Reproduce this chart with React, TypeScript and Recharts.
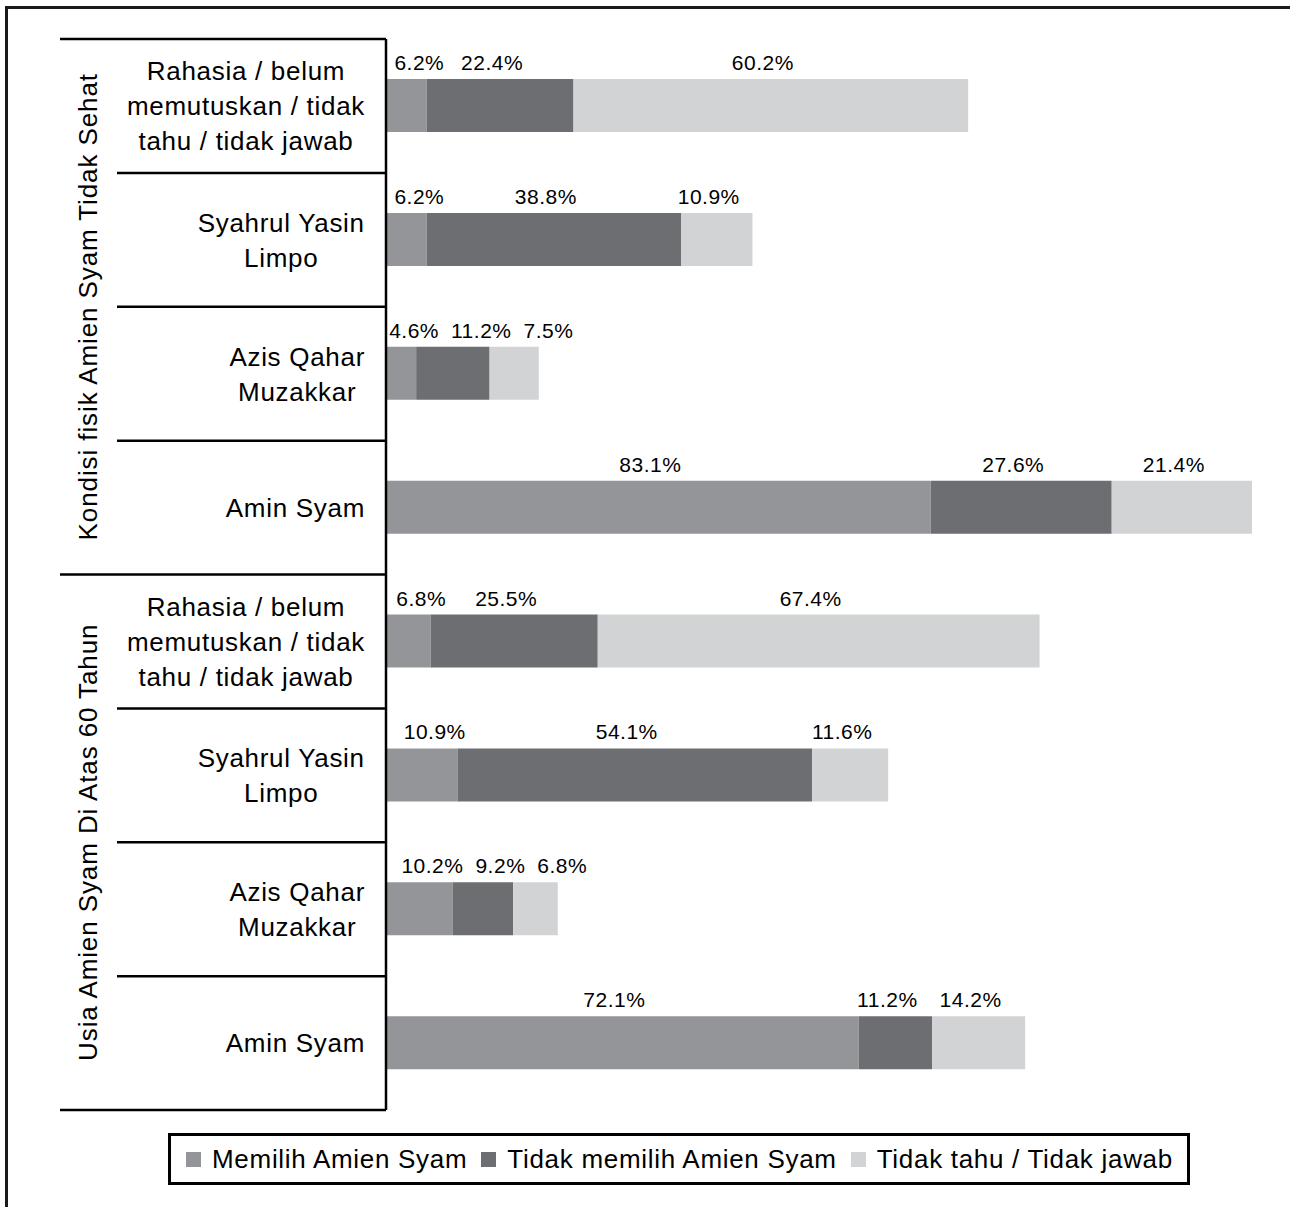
import React from 'react';
import { BarChart, Bar, XAxis, YAxis, LabelList } from 'recharts';

const groups = ['Kondisi fisik Amien Syam Tidak Sehat', 'Usia Amien Syam Di Atas 60 Tahun'];
const candidates = [
  'Rahasia / belum\nmemutuskan / tidak\ntahu / tidak jawab',
  'Syahrul Yasin\nLimpo',
  'Azis Qahar\nMuzakkar',
  'Amin Syam',
];
const seriesNames = ['Memilih Amien Syam', 'Tidak memilih Amien Syam', 'Tidak tahu / Tidak jawab'];
const seriesKeys = ['memilih', 'tidakMemilih', 'tidakTahu'];
const colors = ['#939598', '#6d6e71', '#d1d3d4'];

// top to bottom: group 1 rows, then group 2 rows
const memilih = [6.2, 6.2, 4.6, 83.1, 6.8, 10.9, 10.2, 72.1];
const tidakMemilih = [22.4, 38.8, 11.2, 27.6, 25.5, 54.1, 9.2, 11.2];
const tidakTahu = [60.2, 10.9, 7.5, 21.4, 67.4, 11.6, 6.8, 14.2];

const rows = groups.flatMap((group, gi) =>
  candidates.map((label, ci) => {
    const i = gi * candidates.length + ci;
    return {
      id: String(i),
      group,
      gi,
      ci,
      label,
      memilih: memilih[i],
      tidakMemilih: tidakMemilih[i],
      tidakTahu: tidakTahu[i],
    };
  })
);

const maxTotal = Math.max(...rows.map((r) => r.memilih + r.tidakMemilih + r.tidakTahu));

const FONT = '"Liberation Sans", Arial, sans-serif';
const W = 1290;
const PLOT_TOP = 39;
const PLOT_BOTTOM = 1110;
const AXIS_X = 386;
const LABEL_RIGHT = 365;
const BAND = (PLOT_BOTTOM - PLOT_TOP) / rows.length;
const LINE_H = 35;
const CAT_SIZE = 26;
const SPACING = 0.7;
const VAL_SIZE = 21;
const VAL_SPACING = 0.5;

let ctx: CanvasRenderingContext2D | null = null;
function measure(s: string, size = CAT_SIZE, spacing = SPACING) {
  if (!ctx) {
    ctx = document.createElement('canvas').getContext('2d');
  }
  if (!ctx) return s.length * size * 0.55;
  ctx.font = `${size}px "Liberation Sans"`;
  return ctx.measureText(s).width + s.length * spacing;
}

const fmt = (v: number) => `${v.toFixed(1)}%`;

// value labels sit slightly left of segment centre, and get nudged right
// when they would run into the axis or the previous label
function layoutRow(vals: number[], x0: number, k: number) {
  const centers: number[] = [];
  let prevRight = -Infinity;
  let start = x0;
  vals.forEach((v, i) => {
    const w = k * v;
    const segC = start + w / 2;
    const tw = measure(fmt(v), VAL_SIZE, VAL_SPACING);
    let c = segC - 8;
    if (i === 0 && c - tw / 2 < x0 + 6) c = segC + 13;
    if (c - tw / 2 < prevRight + 12) c = prevRight + 12 + tw / 2;
    centers.push(c);
    prevRight = c + tw / 2;
    start += w;
  });
  return centers;
}

function makeValueLabel(s: number) {
  return (props: any) => {
    const { x, y, width, index } = props;
    const row: any = rows[index];
    if (!row) return null;
    const vals = seriesKeys.map((key) => row[key] as number);
    const k = Number(width) / vals[s];
    const before = vals.slice(0, s).reduce((a, b) => a + b, 0);
    const x0 = Number(x) - k * before;
    const centers = layoutRow(vals, x0, k);
    return (
      <text
        x={centers[s]}
        y={Number(y) - 9}
        textAnchor="middle"
        fill="#000"
        fontSize={VAL_SIZE}
        fontFamily={FONT}
        letterSpacing={VAL_SPACING}
      >
        {fmt(vals[s])}
      </text>
    );
  };
}

function CategoryTick(props: any) {
  const { y, index } = props;
  const row = rows[index];
  if (!row) return null;
  const lines = row.label.split('\n');
  const blockW = Math.max(...lines.map((l) => measure(l)));
  const cx = LABEL_RIGHT - blockW / 2;
  const top = y - BAND / 2;
  const first = row.ci === 0;
  const groupCy = top + (candidates.length * BAND) / 2;
  const n = lines.length;
  return (
    <g>
      <line x1={first ? 60 : 117} x2={AXIS_X} y1={top} y2={top} stroke="#000" strokeWidth={2.5} />
      {index === rows.length - 1 && (
        <line x1={60} x2={AXIS_X} y1={top + BAND} y2={top + BAND} stroke="#000" strokeWidth={2.5} />
      )}
      <text textAnchor="middle" fill="#000" fontSize={CAT_SIZE} fontFamily={FONT} letterSpacing={SPACING}>
        {lines.map((l: string, i: number) => (
          <tspan key={i} x={cx} y={y + (i - (n - 1) / 2) * LINE_H} dy="0.36em">
            {l}
          </tspan>
        ))}
      </text>
      {first && (
        <text
          x={97}
          y={groupCy}
          transform={`rotate(-90 97 ${groupCy})`}
          textAnchor="middle"
          fill="#000"
          fontSize={CAT_SIZE}
          fontFamily={FONT}
          letterSpacing={0.9}
        >
          {row.group}
        </text>
      )}
    </g>
  );
}

export default function App() {
  return (
    <div
      style={{
        position: 'absolute',
        left: 0,
        top: 0,
        width: W,
        height: 1207,
        overflow: 'hidden',
        background: '#fff',
        fontFamily: FONT,
      }}
    >
      <div
        style={{
          position: 'absolute',
          left: 5,
          top: 6,
          width: W + 20,
          height: 1230,
          border: '3px solid #1a1a1a',
        }}
      />
      <div style={{ position: 'absolute', left: 0, top: 0 }}>
        <BarChart
          width={W}
          height={1120}
          data={rows}
          layout="vertical"
          barSize={53}
          margin={{ top: PLOT_TOP, right: 38, bottom: 10, left: 0 }}
        >
          <XAxis type="number" hide domain={[0, maxTotal]} allowDataOverflow />
          <YAxis
            type="category"
            dataKey="id"
            width={AXIS_X}
            interval={0}
            tickLine={false}
            axisLine={{ stroke: '#000', strokeWidth: 2.5 }}
            tick={<CategoryTick />}
          />
          {seriesKeys.map((k, i) => (
            <Bar key={k} dataKey={k} name={seriesNames[i]} stackId="a" fill={colors[i]} isAnimationActive={false}>
              <LabelList dataKey={k} content={makeValueLabel(i)} />
            </Bar>
          ))}
        </BarChart>
      </div>
      <div
        style={{
          position: 'absolute',
          left: 168,
          top: 1133,
          width: 1022,
          height: 52,
          boxSizing: 'border-box',
          border: '3px solid #000',
          display: 'flex',
          alignItems: 'center',
          paddingLeft: 15,
          fontSize: CAT_SIZE,
          letterSpacing: SPACING,
          color: '#000',
          whiteSpace: 'nowrap',
        }}
      >
        {seriesNames.map((name, i) => (
          <div key={name} style={{ display: 'flex', alignItems: 'center', marginLeft: i === 0 ? 0 : 14 }}>
            <span style={{ width: 15, height: 15, background: colors[i], marginRight: 11, display: 'inline-block' }} />
            <span>{name}</span>
          </div>
        ))}
      </div>
    </div>
  );
}
